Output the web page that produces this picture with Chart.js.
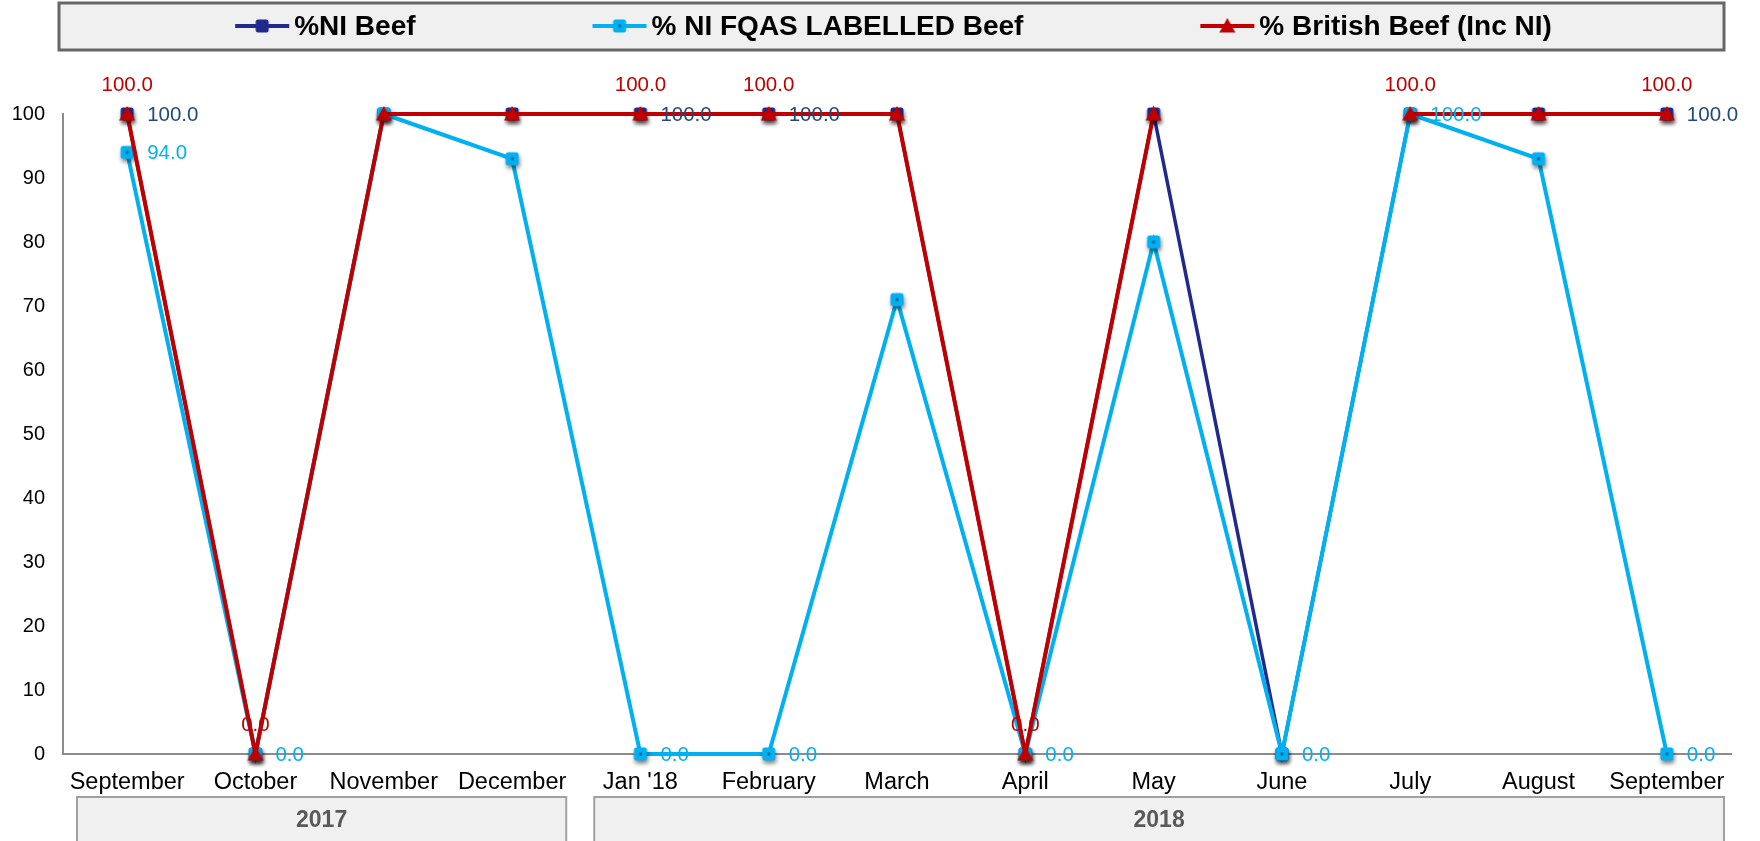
<!DOCTYPE html>
<html><head><meta charset="utf-8">
<script src="https://cdn.jsdelivr.net/npm/chart.js@4.4.0/dist/chart.umd.min.js"></script>
<style>html,body{margin:0;padding:0;background:#fff;} canvas{display:block;}</style>
</head><body>
<canvas id="c" width="1760" height="841"></canvas>
<script>
// ---- data ----
const categories = ['September','October','November','December',"Jan '18",'February','March','April','May','June','July','August','September'];
const niBeef      = [100, 0, 100, 100, 100, 100, 100, 0, 100, 0, 100, 100, 100];
const fqasBeef    = [94, 0, 100, 93, 0, 0, 71, 0, 80, 0, 100, 93, 0];
const britishBeef = [100, 0, 100, 100, 100, 100, 100, 0, 100, null, 100, 100, 100];
const seriesNames = ['%NI Beef', '% NI FQAS LABELLED Beef', '% British Beef (Inc NI)'];
const yTickValues = [0, 10, 20, 30, 40, 50, 60, 70, 80, 90, 100];
const yearLabels = ['2017', '2018'];
const yearFirstIdx = [0, 4];
const yearLastIdx = [3, 12];
// which points carry a data label
const niLabelIdx = [0, 4, 5, 12];
const fqasLabelIdx = [0, 1, 4, 5, 7, 9, 10, 12];
const britishLabelIdx = [0, 1, 4, 5, 7, 10, 12];

// ---- styles ----
const NAVY = '#1f2a8c', CYAN = '#00b0f0', RED = '#c00000', NAVY_LABEL = '#1f497d';
const FONT = '"Liberation Sans", Arial, Helvetica, sans-serif';

function rr(g, x, y, w, h, r) {
  g.beginPath(); g.moveTo(x + r, y); g.lineTo(x + w - r, y); g.quadraticCurveTo(x + w, y, x + w, y + r);
  g.lineTo(x + w, y + h - r); g.quadraticCurveTo(x + w, y + h, x + w - r, y + h); g.lineTo(x + r, y + h);
  g.quadraticCurveTo(x, y + h, x, y + h - r); g.lineTo(x, y + r); g.quadraticCurveTo(x, y, x + r, y); g.closePath();
}
function makeMarker(kind, shadow) {
  const s = 32, c = document.createElement('canvas'); c.width = s; c.height = s;
  const g = c.getContext('2d'), m = s / 2;
  if (shadow) { g.shadowColor = 'rgba(0,0,0,0.5)'; g.shadowBlur = 4; g.shadowOffsetX = 1; g.shadowOffsetY = 3; }
  if (kind === 'navy') { g.fillStyle = NAVY; rr(g, m - 6.5, m - 6.5, 13, 13, 2.5); g.fill(); }
  if (kind === 'cyan') {
    g.fillStyle = CYAN; rr(g, m - 6.5, m - 6.5, 13, 13, 2.5); g.fill();
    g.shadowColor = 'transparent'; g.fillStyle = '#0b6a9a'; g.fillRect(m - 1.5, m - 1.5, 3, 3);
  }
  if (kind === 'red') {
    g.fillStyle = RED; g.beginPath(); g.moveTo(m, m - 8); g.lineTo(m + 8, m + 6.5); g.lineTo(m - 8, m + 6.5); g.closePath(); g.fill();
  }
  return c;
}
const markers = { navy: makeMarker('navy', true), cyan: makeMarker('cyan', true), red: makeMarker('red', true) };
const legendMarkers = [makeMarker('navy', false), makeMarker('cyan', false), makeMarker('red', false)];

const labelSpecs = [
  { idx: niLabelIdx, color: NAVY_LABEL, pos: 'right' },
  { idx: fqasLabelIdx, color: CYAN, pos: 'right' },
  { idx: britishLabelIdx, color: RED, pos: 'top' }
];

const dataLabelsPlugin = {
  id: 'dataLabels',
  afterDatasetsDraw(chart) {
    const ctx = chart.ctx;
    ctx.save();
    ctx.font = '20.5px ' + FONT;
    labelSpecs.forEach((spec, di) => {
      const meta = chart.getDatasetMeta(di);
      const vals = chart.data.datasets[di].data;
      spec.idx.forEach(i => {
        const p = meta.data[i]; if (!p || vals[i] == null) return;
        const txt = Number(vals[i]).toFixed(1);
        ctx.fillStyle = spec.color;
        ctx.textBaseline = 'middle';
        if (spec.pos === 'right') { ctx.textAlign = 'left'; ctx.fillText(txt, p.x + 20, p.y + 1); }
        else { ctx.textAlign = 'center'; ctx.fillText(txt, p.x, p.y - 29); }
      });
    });
    ctx.restore();
  }
};

const legendBoxPlugin = {
  id: 'legendBox',
  afterDraw(chart) {
    const ctx = chart.ctx;
    const left = 59, right = 1724, top = 3, bottom = 50;
    ctx.save();
    ctx.fillStyle = '#f0f0f0'; ctx.fillRect(left, top, right - left, bottom - top);
    ctx.strokeStyle = '#666666'; ctx.lineWidth = 3; ctx.strokeRect(left, top, right - left, bottom - top);
    ctx.font = 'bold 28px ' + FONT;
    const lineLen = 54, gapText = 5, gapItem = 177;
    const ds = chart.data.datasets;
    const widths = ds.map(d => ctx.measureText(d.label).width);
    let total = widths.reduce((a, b) => a + b, 0) + ds.length * (lineLen + gapText) + (ds.length - 1) * gapItem;
    let x = (left + right) / 2 - total / 2 + 2;
    const cy = 26;
    ds.forEach((d, i) => {
      ctx.strokeStyle = d.borderColor; ctx.lineWidth = 4;
      ctx.beginPath(); ctx.moveTo(x, cy); ctx.lineTo(x + lineLen, cy); ctx.stroke();
      const mk = legendMarkers[i];
      ctx.drawImage(mk, x + lineLen / 2 - mk.width / 2, cy - mk.height / 2);
      ctx.fillStyle = '#000'; ctx.textAlign = 'left'; ctx.textBaseline = 'middle';
      ctx.fillText(d.label, x + lineLen + gapText, cy + 1);
      x += lineLen + gapText + widths[i] + gapItem;
    });
    ctx.restore();
  }
};

const yearBoxPlugin = {
  id: 'yearBoxes',
  afterDraw(chart) {
    const ctx = chart.ctx, xs = chart.scales.x;
    const half = (xs.getPixelForValue(1) - xs.getPixelForValue(0)) / 2;
    ctx.save();
    yearLabels.forEach((lab, k) => {
      const l = xs.getPixelForValue(yearFirstIdx[k]) - half + (k === 0 ? 14 : 18);
      const r = xs.getPixelForValue(yearLastIdx[k]) + half - (k === 0 ? 10 : 7);
      const t = 797, b = 841;
      ctx.fillStyle = '#f0f0f0'; ctx.fillRect(l, t, r - l, b - t);
      ctx.strokeStyle = '#a0a0a0'; ctx.lineWidth = 2;
      ctx.beginPath(); ctx.moveTo(l, b); ctx.lineTo(l, t); ctx.lineTo(r, t); ctx.lineTo(r, b); ctx.stroke();
      ctx.fillStyle = '#595959'; ctx.font = 'bold 23px ' + FONT; ctx.textAlign = 'center'; ctx.textBaseline = 'middle';
      ctx.fillText(lab, (l + r) / 2, 821);
    });
    ctx.restore();
  }
};

new Chart(document.getElementById('c'), {
  type: 'line',
  data: {
    labels: categories,
    datasets: [
      { label: seriesNames[0], data: niBeef, borderColor: NAVY, backgroundColor: NAVY, borderWidth: 3.5,
        pointStyle: markers.navy, pointRadius: 6, order: 3, clip: false, tension: 0 },
      { label: seriesNames[1], data: fqasBeef, borderColor: CYAN, backgroundColor: CYAN, borderWidth: 4,
        pointStyle: markers.cyan, pointRadius: 6, order: 2, clip: false, tension: 0 },
      { label: seriesNames[2], data: britishBeef, borderColor: RED, backgroundColor: RED, borderWidth: 4,
        pointStyle: markers.red, pointRadius: 6, order: 1, clip: false, tension: 0, spanGaps: false }
    ]
  },
  options: {
    responsive: false,
    devicePixelRatio: 1,
    animation: false,
    layout: { padding: { top: 114, left: 12, right: 29, bottom: 46 } },
    plugins: { legend: { display: false }, tooltip: { enabled: false } },
    scales: {
      x: {
        offset: true,
        grid: { display: false, drawTicks: false },
        border: { display: true, color: '#8c8c8c', width: 2 },
        ticks: { color: '#000', font: { family: FONT, size: 23.5 }, padding: 14, maxRotation: 0, autoSkip: false },
        afterFit(s) { s.height = 41; }
      },
      y: {
        min: 0, max: 100,
        grid: { display: false, drawTicks: false },
        border: { display: true, color: '#8c8c8c', width: 2 },
        ticks: { color: '#000', font: { family: FONT, size: 20 }, padding: 18 },
        afterBuildTicks(s) { s.ticks = yTickValues.map(v => ({ value: v })); },
        afterFit(s) { s.width = 51; }
      }
    }
  },
  plugins: [dataLabelsPlugin, legendBoxPlugin, yearBoxPlugin]
});
</script>
</body></html>
